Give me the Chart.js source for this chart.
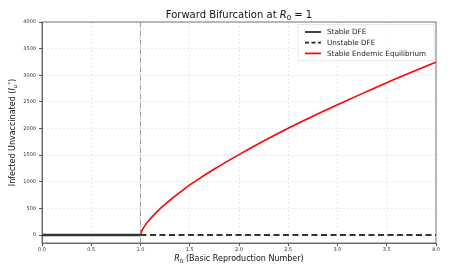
<!DOCTYPE html>
<html>
<head>
<meta charset="utf-8">
<script src="https://cdn.jsdelivr.net/npm/chart.js@4.4.0/dist/chart.umd.min.js"></script>
<style>
  html, body { margin: 0; padding: 0; background: #fff; }
  #wrap { width: 453px; height: 267px; }
</style>
</head>
<body>
<div id="wrap"><canvas id="chart"></canvas></div>
<script>
'use strict';

// R0 values and equilibrium levels
const stableDfeR = [0, 1];
const stableDfeI = [0, 0];
const unstableDfeR = [1, 4];
const unstableDfeI = [0, 0];
const endemicR = [1, 1.01, 1.02, 1.05, 1.1, 1.2, 1.3, 1.4, 1.5, 1.6, 1.75, 2, 2.25, 2.5, 2.75, 3, 3.25, 3.5, 3.75, 4];
const endemicI = [0, 60, 100, 190, 305, 495, 655, 800, 940, 1065, 1240, 1510, 1765, 2005, 2230, 2445, 2655, 2860, 3055, 3245];
const thresholdR = 1;

const xTicks = [0, 0.5, 1, 1.5, 2, 2.5, 3, 3.5, 4];
const yTicks = [0, 500, 1000, 1500, 2000, 2500, 3000, 3500, 4000];
const xRange = [0, 4];
const yRange = [-150, 4000];

const legendItems = [
    { label: 'Stable DFE', color: '#222', dash: [] },
    { label: 'Unstable DFE', color: '#222', dash: [4, 2.5] },
    { label: 'Stable Endemic Equilibrium', color: '#ff0000', dash: [] }
];

const FONT = '"DejaVu Sans", sans-serif';

const pts = (xs, ys) => xs.map((x, i) => ({ x: x, y: ys[i] }));

// draws runs of text with different fonts / offsets, centred at cx
function drawRich(ctx, parts, cx, cy) {
    let total = 0;
    parts.forEach(p => { ctx.font = p.font; p.w = ctx.measureText(p.t).width; total += p.w; });
    let x = cx - total / 2;
    ctx.textBaseline = 'alphabetic';
    ctx.textAlign = 'left';
    parts.forEach(p => {
        ctx.font = p.font;
        ctx.fillText(p.t, x, cy + (p.dy || 0));
        x += p.w;
    });
}

const decorPlugin = {
    id: 'decor',
    afterDatasetsDraw(chart) {
        const ctx = chart.ctx;
        const a = chart.chartArea;
        ctx.save();
        // frame
        ctx.strokeStyle = '#555';
        ctx.lineWidth = 0.8;
        ctx.strokeRect(a.left, a.top, a.right - a.left, a.bottom - a.top);

        // legend
        const lx = a.right - 138, ly = a.top + 2.5, lw = 136, lh = 36;
        ctx.fillStyle = 'rgba(255,255,255,0.85)';
        ctx.strokeStyle = '#e2e2e2';
        ctx.lineWidth = 0.8;
        ctx.fillRect(lx, ly, lw, lh);
        ctx.strokeRect(lx, ly, lw, lh);
        ctx.font = '7.2px ' + FONT;
        ctx.textBaseline = 'middle';
        legendItems.forEach((it, i) => {
            const y = ly + 7.5 + i * 10.7;
            ctx.strokeStyle = it.color;
            ctx.lineWidth = 1.7;
            ctx.setLineDash(it.dash);
            ctx.beginPath();
            ctx.moveTo(lx + 7, y);
            ctx.lineTo(lx + 23, y);
            ctx.stroke();
            ctx.setLineDash([]);
            ctx.fillStyle = '#222';
            ctx.fillText(it.label, lx + 29, y + 0.5);
        });
        ctx.restore();
    },
    afterDraw(chart) {
        const ctx = chart.ctx;
        const a = chart.chartArea;
        const cx = (a.left + a.right) / 2;
        ctx.save();
        ctx.fillStyle = '#111';
        drawRich(ctx, [
            { t: 'Forward Bifurcation at ', font: '10px ' + FONT },
            { t: 'R', font: 'italic 10px ' + FONT },
            { t: '0', font: '7px ' + FONT, dy: 2 },
            { t: ' = 1', font: '10px ' + FONT }
        ], cx, 18);
        drawRich(ctx, [
            { t: 'R', font: 'italic 8px ' + FONT },
            { t: '0', font: '5.6px ' + FONT, dy: 1.6 },
            { t: ' (Basic Reproduction Number)', font: '8px ' + FONT }
        ], cx, 261);
        ctx.translate(15, (a.top + a.bottom) / 2);
        ctx.rotate(-Math.PI / 2);
        drawRich(ctx, [
            { t: 'Infected Unvaccinated (', font: '8px ' + FONT },
            { t: 'I', font: 'italic 8px ' + FONT },
            { t: 'u', font: 'italic 5.6px ' + FONT, dy: 1.6 },
            { t: '*', font: '5.6px ' + FONT, dy: -3.5 },
            { t: ')', font: '8px ' + FONT }
        ], 0, 0);
        ctx.restore();
    }
};

new Chart(document.getElementById('chart'), {
    type: 'scatter',
    data: {
        datasets: [
            {
                label: 'threshold',
                data: pts([thresholdR, thresholdR], yRange),
                showLine: true,
                borderColor: 'rgba(128,128,128,0.75)',
                borderWidth: 1,
                borderDash: [5, 1.5, 1, 1.5],
                pointRadius: 0
            },
            {
                label: 'Stable DFE',
                data: pts(stableDfeR, stableDfeI),
                showLine: true,
                borderColor: '#333',
                borderWidth: 2.4,
                pointRadius: 0
            },
            {
                label: 'Unstable DFE',
                data: pts(unstableDfeR, unstableDfeI),
                showLine: true,
                borderColor: '#333',
                borderWidth: 2.2,
                borderDash: [6, 3.5],
                pointRadius: 0
            },
            {
                label: 'Stable Endemic Equilibrium',
                data: pts(endemicR, endemicI),
                showLine: true,
                borderColor: '#ff0000',
                borderWidth: 1.6,
                cubicInterpolationMode: 'monotone',
                pointRadius: 0
            }
        ]
    },
    options: {
        responsive: true,
        maintainAspectRatio: false,
        animation: false,
        layout: { padding: { left: 0, right: 17, top: 22, bottom: 0 } },
        plugins: {
            legend: { display: false },
            title: { display: false },
            tooltip: { enabled: false }
        },
        scales: {
            x: {
                type: 'linear',
                min: xRange[0],
                max: xRange[1],
                afterFit: s => { s.height = 24; },
                afterBuildTicks: s => { s.ticks = xTicks.map(v => ({ value: v })); },
                grid: { color: 'rgba(0,0,0,0.09)', tickLength: 3, tickColor: '#555', tickBorderDash: [] },
                border: { color: '#555', width: 0.8, dash: [2, 2] },
                ticks: {
                    font: { size: 5, family: FONT },
                    color: '#333',
                    padding: 1,
                    maxRotation: 0,
                    callback: v => Number(v).toFixed(1)
                }
            },
            y: {
                type: 'linear',
                min: yRange[0],
                max: yRange[1],
                afterFit: s => { s.width = 42; },
                afterBuildTicks: s => { s.ticks = yTicks.map(v => ({ value: v })); },
                grid: { color: 'rgba(0,0,0,0.09)', tickLength: 3, tickColor: '#555', tickBorderDash: [] },
                border: { color: '#555', width: 0.8, dash: [2, 2] },
                ticks: {
                    font: { size: 5, family: FONT },
                    color: '#333',
                    padding: 3,
                    callback: v => String(v)
                }
            }
        }
    },
    plugins: [decorPlugin]
});
</script>
</body>
</html>
